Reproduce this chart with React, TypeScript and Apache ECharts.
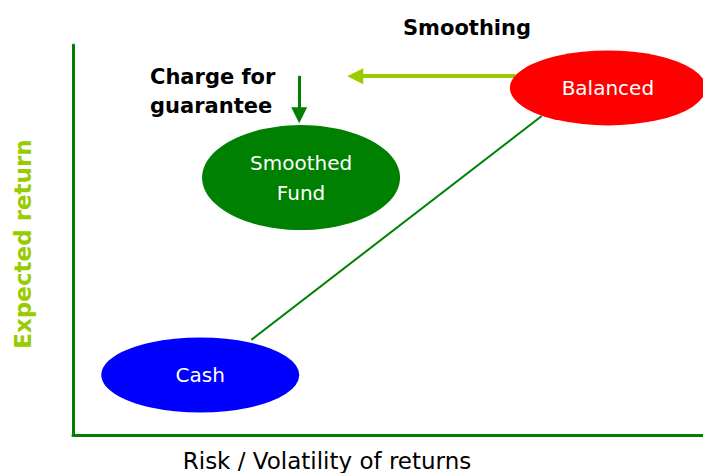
import React, { useEffect, useRef } from "react";
import * as echarts from "echarts";

// Conceptual positions on a 0-100 risk / return plane
const nodeNames = ["Cash", "Smoothed\nFund", "Balanced"];
const nodeRisk = [20.2, 36.2, 84.9];
const nodeReturn = [15.4, 66.0, 89.0];
const nodeColors = ["#0000FF", "#008000", "#FF0000"];

// connecting line Cash -> Balanced
const linkRisk = [28.3, 74.4];
const linkReturn = [24.4, 81.8];

// Smoothing arrow (Balanced -> Smoothed level)
const smoothArrowRisk = [70.2, 44.8];
const smoothArrowReturn = [92.0, 92.0];

// Charge for guarantee arrow
const chargeArrowRisk = [35.9, 35.9];
const chargeArrowReturn = [92.1, 82.0];

const FONT = "DejaVu Sans, Verdana, sans-serif";

export default function App() {
  const ref = useRef<HTMLDivElement>(null);
  useEffect(() => {
    document.body.style.margin = "0";
    const chart = echarts.init(ref.current!, null, { renderer: "svg" });
    const sizes = [
      [198, 75],
      [198, 105],
      [196, 75],
    ];
    chart.setOption({
      animation: false,
      grid: {
        left: 73,
        right: 0,
        top: 45,
        bottom: 38,
        containLabel: false,
        outerBoundsMode: "none",
      },
      xAxis: {
        type: "value",
        min: 0,
        max: 100,
        axisLine: { show: true, lineStyle: { color: "#008000", width: 3 } },
        axisTick: { show: false },
        axisLabel: { show: false },
        splitLine: { show: false },
      },
      yAxis: {
        type: "value",
        min: 0,
        max: 100,
        name: "Expected return",
        nameLocation: "middle",
        nameGap: 39,
        nameRotate: 90,
        nameTextStyle: {
          color: "#99CC00",
          fontWeight: "bold",
          fontSize: 23,
          fontFamily: FONT,
          padding: [0, 0, 0, -8],
        },
        axisLine: { show: true, lineStyle: { color: "#008000", width: 3 } },
        axisTick: { show: false },
        axisLabel: { show: false },
        splitLine: { show: false },
      },
      series: [
        {
          type: "line",
          data: linkRisk.map((x, i) => [x, linkReturn[i]]),
          symbol: "none",
          lineStyle: { color: "#008000", width: 2 },
          z: 1,
        },
        {
          type: "lines",
          coordinateSystem: "cartesian2d",
          polyline: false,
          symbol: ["none", "triangle"],
          symbolSize: 16,
          z: 3,
          data: [
            {
              coords: smoothArrowRisk.map((x, i) => [x, smoothArrowReturn[i]]),
              lineStyle: { color: "#99CC00", width: 4, opacity: 1 },
            },
            {
              coords: chargeArrowRisk.map((x, i) => [x, chargeArrowReturn[i]]),
              lineStyle: { color: "#008000", width: 3, opacity: 1 },
            },
          ],
        },
        {
          type: "scatter",
          z: 4,
          data: nodeNames.map((n, i) => ({
            name: n,
            value: [nodeRisk[i], nodeReturn[i]],
            symbolSize: sizes[i],
            itemStyle: { color: nodeColors[i], opacity: 1 },
          })),
          symbol: "circle",
          label: {
            show: true,
            position: "inside",
            formatter: (p: any) => p.name,
            color: "#FFFFFF",
            fontSize: 20,
            lineHeight: 30,
            fontFamily: FONT,
          },
          emphasis: { disabled: true },
        },
      ],
      graphic: [
        {
          type: "text",
          x: 467,
          y: 28,
          style: {
            text: "Smoothing",
            fill: "#000",
            font: `bold 21px ${FONT}`,
            align: "center",
            verticalAlign: "middle",
          },
        },
        {
          type: "text",
          x: 150,
          y: 62,
          style: {
            text: "Charge for\nguarantee",
            fill: "#000",
            font: `bold 21px ${FONT}`,
            lineHeight: 29,
            align: "left",
            verticalAlign: "top",
          },
        },
        {
          type: "text",
          x: 327,
          y: 461,
          style: {
            text: "Risk / Volatility of returns",
            fill: "#000",
            font: `23px ${FONT}`,
            align: "center",
            verticalAlign: "middle",
          },
        },
      ],
    });
    return () => chart.dispose();
  }, []);
  return <div ref={ref} style={{ width: 703, height: 473 }} />;
}
